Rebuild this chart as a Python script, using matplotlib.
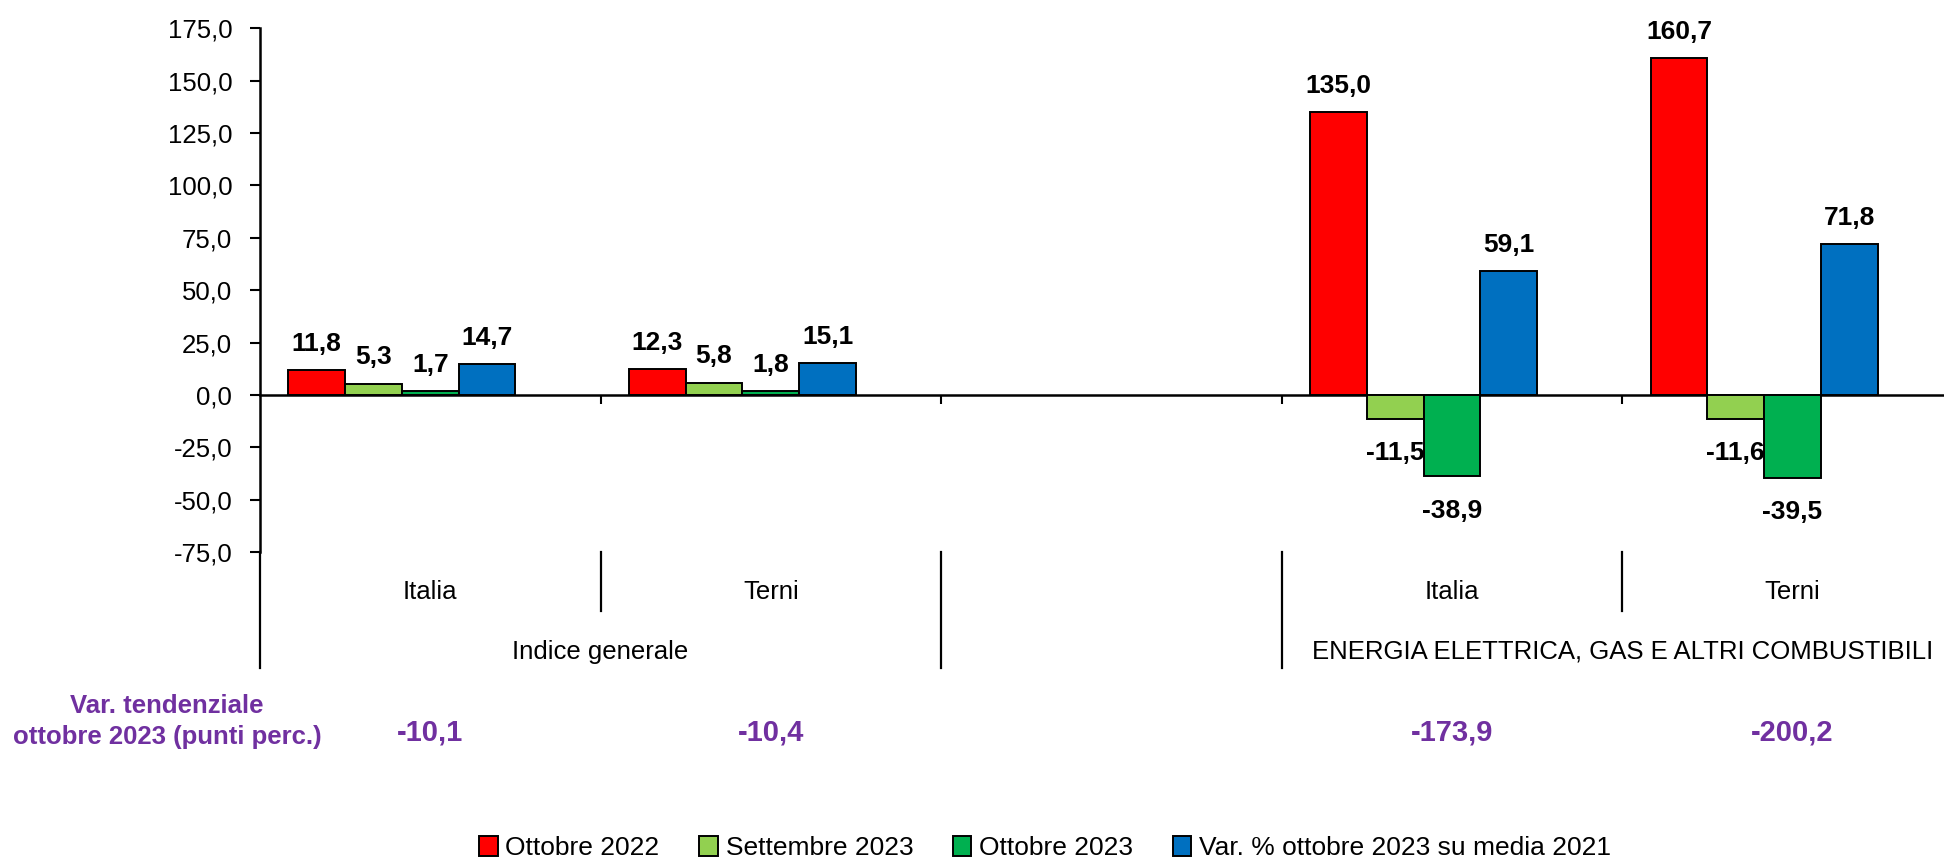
import numpy as np
import matplotlib
matplotlib.use("Agg")
import matplotlib.pyplot as plt
from matplotlib.patches import Patch
from matplotlib.lines import Line2D
from matplotlib.ticker import FuncFormatter

plt.rcParams['font.family'] = ['Liberation Sans', 'DejaVu Sans']

# ================= DATA =================
inner_labels = ["Italia", "Terni", "", "Italia", "Terni"]
outer_labels = ["Indice generale", "", "ENERGIA ELETTRICA, GAS E ALTRI COMBUSTIBILI"]
outer_span = [(0, 1), (2, 2), (3, 4)]

series_names = ["Ottobre 2022", "Settembre 2023", "Ottobre 2023",
                "Var. % ottobre 2023 su media 2021"]
ott_2022 = [11.8, 12.3, None, 135.0, 160.7]
set_2023 = [5.3, 5.8, None, -11.5, -11.6]
ott_2023 = [1.7, 1.8, None, -38.9, -39.5]
var_2021 = [14.7, 15.1, None, 59.1, 71.8]
colors = ["#FF0000", "#92D050", "#00B050", "#0070C0"]

var_tend_label = "Var. tendenziale\nottobre 2023 (punti perc.)"
var_tend = [-10.1, -10.4, None, -173.9, -200.2]

PURPLE = "#7030A0"

def fmt(v):
    return f"{v:.1f}".replace(".", ",")

# ================= FIGURE =================
fig = plt.figure(figsize=(19.44, 8.63), dpi=100)
ax = fig.add_axes([0.1337, 0.3604, 0.876, 0.6068])

n = len(inner_labels)
x = np.arange(n)
w = 1 / 6  # 5 slots per group (last series empty) + gap

for k, (vals, col) in enumerate(zip([ott_2022, set_2023, ott_2023, var_2021], colors)):
    for i, v in enumerate(vals):
        if v is None:
            continue
        xi = x[i] + (k - 2) * w
        ax.bar(xi, v, width=w, color=col, edgecolor="black", linewidth=1.4, zorder=3)
        if v >= 0:
            ax.annotate(fmt(v), (xi, v), xytext=(0, 14), textcoords="offset points",
                        ha="center", va="baseline", fontsize=19, fontweight="bold")
        else:
            ax.annotate(fmt(v), (xi, v), xytext=(0, -16), textcoords="offset points",
                        ha="center", va="top", fontsize=19, fontweight="bold")

ax.set_xlim(-0.5, n - 0.5)
ax.set_ylim(-75, 175)
ax.set_yticks(np.arange(-75, 176, 25))
ax.yaxis.set_major_formatter(FuncFormatter(lambda v, p: fmt(v)))
ax.tick_params(axis="y", direction="out", length=7, width=1.5, pad=13, labelsize=18.5)

ax.spines["top"].set_visible(False)
ax.spines["right"].set_visible(False)
ax.spines["bottom"].set_position(("data", 0))
ax.spines["bottom"].set_linewidth(1.8)
ax.spines["left"].set_linewidth(1.8)
ax.set_xticks(np.arange(0.5, n, 1.0))
ax.set_xticklabels([])
ax.tick_params(axis="x", direction="out", length=6.5, width=1.5)

# category axis below the plot area
trans = ax.get_xaxis_transform()
for i, lab in enumerate(inner_labels):
    if lab:
        ax.text(x[i], -0.0764, lab, transform=trans, ha="center", va="center",
                fontsize=18.5, clip_on=False)
for lab, (a, b) in zip(outer_labels, outer_span):
    if lab:
        ax.text((a + b) / 2, -0.191, lab, transform=trans, ha="center", va="center",
                fontsize=18.5, clip_on=False)

for b in [0.5, 3.5]:
    ax.add_line(Line2D([b, b], [0, -0.1127], transform=trans, color="black",
                       lw=1.6, clip_on=False))
for b in [-0.5, 1.5, 2.5]:
    ax.add_line(Line2D([b, b], [0, -0.2215], transform=trans, color="black",
                       lw=1.6, clip_on=False))

# purple row
fig.text(0.0859, 0.164, var_tend_label, ha="center", va="center", color=PURPLE,
         fontsize=18.5, fontweight="bold", linespacing=1.4, multialignment="center")
for i, v in enumerate(var_tend):
    if v is None:
        continue
    ax.text(x[i], -0.3456, fmt(v), transform=trans, ha="center", va="center",
            color=PURPLE, fontsize=21, fontweight="bold", clip_on=False)

handles = [Patch(facecolor=c, edgecolor="black", linewidth=1.4) for c in colors]
fig.legend(handles, series_names, loc="center", bbox_to_anchor=(0.5376, 0.0174),
           ncol=4, frameon=False, fontsize=19, handlelength=0.7, handleheight=0.8,
           handletextpad=0.3, columnspacing=1.5, borderaxespad=0)

fig.savefig("out.png", dpi=100)
